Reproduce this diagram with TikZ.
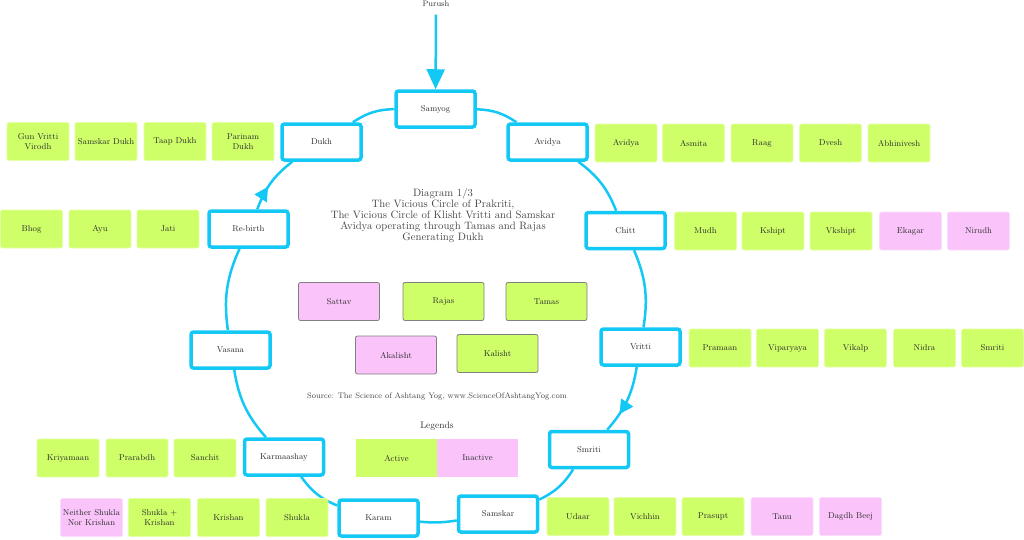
\documentclass[tikz,border=0pt]{standalone}
\usetikzlibrary{arrows.meta,decorations.markings}
\definecolor{cyanb}{RGB}{20,200,245}
\definecolor{gfill}{RGB}{206,255,104}
\definecolor{pfill}{RGB}{250,196,250}
\definecolor{txt}{RGB}{45,45,45}
\definecolor{ttl}{RGB}{70,70,70}
\begin{document}
\begin{tikzpicture}[x=1pt,y=1pt,
 stage/.style={draw=cyanb, line width=3.5pt, fill=white, rounded corners=2.5pt, minimum width=79pt, minimum height=36pt, inner sep=1pt, font=\fontsize{8.5}{10}\selectfont, text=txt},
 gbox/.style={fill=gfill, draw=gfill!60!white, line width=0.6pt, rounded corners=2pt, minimum width=62pt, minimum height=38pt, inner sep=1pt, align=center, font=\fontsize{8.5}{9.5}\selectfont, text=txt},
 pbox/.style={gbox, fill=pfill, draw=pfill!60!white},
 cg/.style={gbox, draw=gray, line width=0.8pt, minimum width=81pt, minimum height=38pt},
 cp/.style={cg, fill=pfill},
 lg/.style={gbox, draw=none, rounded corners=0pt, minimum width=81pt},
 link/.style={draw=cyanb, line width=2.5pt, bend left=16},
 arrowmid/.style={postaction={decorate}, decoration={markings, mark=at position #1 with {\arrow[cyanb]{Triangle[length=14pt,width=14pt]}}}}
]
\useasboundingbox (0,0) rectangle (1024,-539);

% main cycle
\node[stage] (samyog) at (435.5,-109) {Samyog};
\node[stage] (avidya) at (547.5,-142) {Avidya};
\node[stage] (dukh) at (321.5,-142) {Dukh};
\node[stage] (rebirth) at (248.5,-229) {Re-birth};
\node[stage] (chitt) at (625.5,-230.5) {Chitt};
\node[stage] (vasana) at (230.5,-350) {Vasana};
\node[stage] (vritti) at (640.5,-347) {Vritti};
\node[stage] (karma) at (284,-457) {Karmaashay};
\node[stage] (smriti) at (589,-449.5) {Smriti};
\node[stage] (karam) at (378.5,-518) {Karam};
\node[stage] (samskar) at (498,-514) {Samskar};

\node[font=\fontsize{8}{9}\selectfont, text=txt, inner sep=1pt] (purush) at (436,-3.5) {Purush};
\draw[draw=cyanb, line width=2.5pt, -{Triangle[length=20pt,width=18pt]}, shorten <=7pt] (purush) -- (samyog);

\draw[link] (samyog) to (avidya);
\draw[link] (avidya) to (chitt);
\draw[link] (chitt) to (vritti);
\draw[link, arrowmid=0.72] (vritti) to (smriti);
\draw[link] (smriti) to (samskar);
\draw[link, bend left=7] (samskar) to (karam);
\draw[link] (karam) to (karma);
\draw[link] (karma) to (vasana);
\draw[link] (vasana) to (rebirth);
\draw[link, arrowmid=0.42] (rebirth) to (dukh);
\draw[link] (dukh) to (samyog);

% Dukh row
\node[gbox] (gvv) at (38,-141.5) {Gun Vritti\\Virodh};
\node[gbox] (sd) at (106,-141.5) {Samskar Dukh};
\node[gbox] (td) at (175,-141.5) {Taap Dukh};
\node[gbox] (pd) at (243,-141.5) {Parinam\\Dukh};

% Avidya row
\node[gbox] (a1) at (626,-143) {Avidya};
\node[gbox] (a2) at (693.5,-143) {Asmita};
\node[gbox] (a3) at (762,-143) {Raag};
\node[gbox] (a4) at (830.5,-143) {Dvesh};
\node[gbox] (a5) at (899,-143) {Abhinivesh};

% Re-birth row
\node[gbox] (r1) at (31.5,-229) {Bhog};
\node[gbox] (r2) at (100,-229) {Ayu};
\node[gbox] (r3) at (168,-229) {Jati};

% Chitt row
\node[gbox] (c1) at (705.5,-231) {Mudh};
\node[gbox] (c2) at (773,-231) {Kshipt};
\node[gbox] (c3) at (841,-231) {Vkshipt};
\node[pbox] (c4) at (910.5,-231) {Ekagar};
\node[pbox] (c5) at (978.5,-231) {Nirudh};

% Vritti row
\node[gbox] (v1) at (720,-348) {Pramaan};
\node[gbox] (v2) at (787.5,-348) {Viparyaya};
\node[gbox] (v3) at (855.5,-348) {Vikalp};
\node[gbox] (v4) at (924.5,-348) {Nidra};
\node[gbox] (v5) at (992.5,-348) {Smriti};

% Karmaashay row
\node[gbox] (k1) at (68,-458) {Kriyamaan};
\node[gbox] (k2) at (137,-458) {Prarabdh};
\node[gbox] (k3) at (205,-458) {Sanchit};

% Karam row
\node[pbox] (m1) at (91.5,-517.5) {Neither Shukla\\Nor Krishan};
\node[gbox] (m2) at (159.5,-517.5) {Shukla +\\Krishan};
\node[gbox] (m3) at (228.5,-517.5) {Krishan};
\node[gbox] (m4) at (297,-517.5) {Shukla};

% Samskar row
\node[gbox] (s1) at (578,-516.5) {Udaar};
\node[gbox] (s2) at (645,-516.5) {Vichhin};
\node[gbox] (s3) at (713,-516.5) {Prasupt};
\node[pbox] (s4) at (782,-516.5) {Tanu};
\node[pbox] (s5) at (850.5,-516.5) {Dagdh Beej};

% centre
\node[align=center, text=ttl, font=\fontsize{10.7}{11.2}\selectfont] (title) at (443,-215.5) {Diagram 1/3\\The Vicious Circle of Prakriti,\\The Vicious Circle of Klisht Vritti and Samskar\\Avidya operating through Tamas and Rajas\\Generating Dukh};
\node[cp] (sattav) at (339,-301.5) {Sattav};
\node[cg] (rajas) at (443.5,-301.5) {Rajas};
\node[cg] (tamas) at (546.5,-301.5) {Tamas};
\node[cp] (akalisht) at (396,-355) {Akalisht};
\node[cg] (kalisht) at (497.5,-353.5) {Kalisht};
\node[text=ttl, font=\fontsize{8}{9}\selectfont] (source) at (437,-396) {Source: The Science of Ashtang Yog, www.ScienceOfAshtangYog.com};

% legend
\node[text=txt, font=\fontsize{9.5}{11}\selectfont] (legends) at (437,-426) {Legends};
\node[lg] (active) at (396.5,-458) {Active};
\node[lg, fill=pfill] (inactive) at (477.5,-458) {Inactive};
\end{tikzpicture}
\end{document}
